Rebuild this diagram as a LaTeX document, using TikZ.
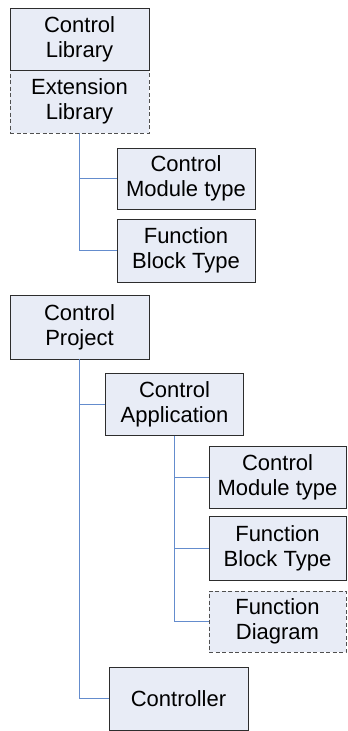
\documentclass[tikz,border=0pt]{standalone}
\usepackage{fontspec}
\setmainfont{Liberation Sans}
\definecolor{boxfill}{RGB}{232,236,246}
\definecolor{boxline}{RGB}{45,45,45}
\definecolor{dashline}{RGB}{80,80,80}
\definecolor{conn}{RGB}{100,140,205}
\begin{document}
\begin{tikzpicture}[x=1pt,y=-1pt,
  box/.style={draw=boxline,fill=boxfill,line width=0.8pt,inner sep=0pt,align=center,
    font=\fontsize{22}{25}\selectfont},
  dbox/.style={box,draw=dashline,dash pattern=on 4pt off 2.5pt},
  link/.style={draw=conn,line width=1pt}]
\useasboundingbox (0,0) rectangle (348,731);
\node[dbox,minimum width=139pt,minimum height=63pt] (ext) at (79.5,101.5) {Extension\\Library};
\node[box,minimum width=139pt,minimum height=62pt] (lib) at (79.5,39) {Control\\Library};
\node[box,minimum width=138pt,minimum height=61pt] (cm1) at (186,178.5) {Control\\Module type};
\node[box,minimum width=138pt,minimum height=63pt] (fb1) at (186,250.5) {Function\\Block Type};
\node[box,minimum width=139pt,minimum height=64pt] (proj) at (79.5,327) {Control\\Project};
\node[box,minimum width=138pt,minimum height=62pt] (app) at (174.5,404.5) {Control\\Application};
\node[box,minimum width=137pt,minimum height=62pt] (cm2) at (277.5,477.5) {Control\\Module type};
\node[box,minimum width=137pt,minimum height=64pt] (fb2) at (277.5,548.5) {Function\\Block Type};
\node[dbox,minimum width=137pt,minimum height=61pt] (fd) at (277.5,621.5) {Function\\Diagram};
\node[box,minimum width=139pt,minimum height=63pt] (ctrl) at (178.5,698.5) {Controller};
\path[link] (ext.south) |- (cm1.west);
\path[link] (ext.south) |- (fb1.west);
\path[link] (proj.south) |- (app.west);
\path[link] (proj.south) |- (ctrl.west);
\path[link] (app.south) |- (cm2.west);
\path[link] (app.south) |- (fb2.west);
\path[link] (app.south) |- (fd.west);
\end{tikzpicture}
\end{document}
